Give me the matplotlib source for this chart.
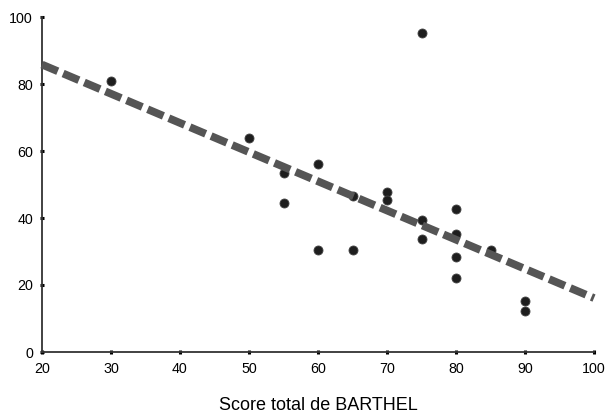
import numpy as np
import matplotlib.pyplot as plt

plt.rcParams['font.family'] = ['Liberation Sans', 'DejaVu Sans']

barthel = [30, 50, 55, 55, 60, 60, 65, 65, 70, 70, 75, 75, 75,
           80, 80, 80, 80, 85, 90, 90]
score_y = [81, 64, 53.5, 44.5, 56, 30.5, 46.5, 30.5, 47.8, 45.4, 95.2, 39.4, 33.7,
           42.7, 35.2, 28.4, 22.1, 30.4, 15.2, 12.2]

# regression line
fit_x = [20, 100]
fit_y = [85.8, 16.1]

fig = plt.figure(figsize=(6.08, 4.12), dpi=100)
ax = fig.add_axes([42/608, 60/412, 552/608, 335/412])

ax.plot(fit_x, fit_y, color='#555555', lw=5.6, dashes=(2.2, 0.75),
        dash_capstyle='butt', zorder=3, clip_on=False)
ax.plot(barthel, score_y, 'o', color='#1e1e1e', markersize=6.5,
        markeredgecolor='#444444', markeredgewidth=0.6, zorder=2, clip_on=False)

ax.set_xlim(20, 100)
ax.set_ylim(0, 100)
ax.set_xticks(np.arange(20, 101, 10))
ax.set_yticks(np.arange(0, 101, 20))
ax.spines['top'].set_visible(False)
ax.spines['right'].set_visible(False)
ax.spines['left'].set_color('#333333')
ax.spines['bottom'].set_color('#333333')
ax.spines['left'].set_linewidth(1.3)
ax.spines['bottom'].set_linewidth(1.3)
ax.tick_params(direction='inout', length=3, width=2.2, color='black',
               labelsize=10.3)
ax.tick_params(axis='x', pad=6)
ax.tick_params(axis='y', pad=5)
fig.text(318/608, 2.5/412, 'Score total de BARTHEL', fontsize=13,
         ha='center', va='baseline')

fig.savefig('out.png', dpi=100)
